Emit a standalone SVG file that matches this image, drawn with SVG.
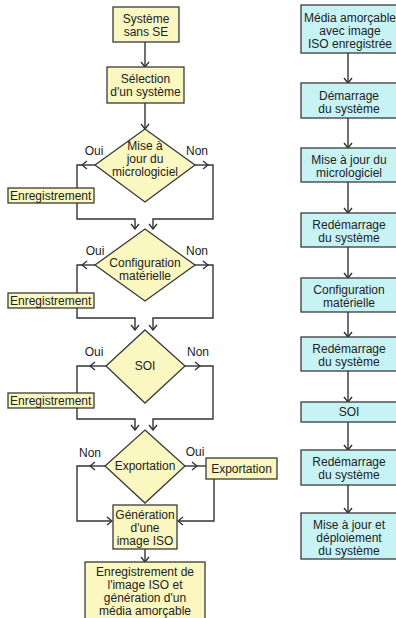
<svg xmlns="http://www.w3.org/2000/svg" width="396" height="618" viewBox="0 0 396 618">
<style>
.y{fill:#FAF7C0;stroke:#3a3a3a;stroke-width:1.3}
.c{fill:#C8F3F5;stroke:#3a3a3a;stroke-width:1.3}
text{font-family:"Liberation Sans",Arial,sans-serif;font-size:12px;fill:#222;text-anchor:middle}
.l{text-anchor:start}
.e{fill:none;stroke:#333;stroke-width:1.4}
</style>
<defs>
<marker id="a" viewBox="-6 -5 7 10" markerUnits="userSpaceOnUse" markerWidth="7" markerHeight="10" refX="0" refY="0" orient="auto">
<path d="M-5,-4 L0,0 L-5,4" fill="none" stroke="#333" stroke-width="1.4"/>
</marker>
</defs>
<g id="connectors">
<path class="e" d="M145,42 V67" marker-end="url(#a)"/>
<path class="e" d="M145,103 V129" marker-end="url(#a)"/>
<path class="e" d="M95,165 H82" marker-end="url(#a)"/>
<path class="e" d="M82,165 H77 V219 H135 V229" marker-end="url(#a)"/>
<path class="e" d="M195,165 H208" marker-end="url(#a)"/>
<path class="e" d="M208,165 H213 V219 H153 V229" marker-end="url(#a)"/>
<path class="e" d="M95,265 H82" marker-end="url(#a)"/>
<path class="e" d="M82,265 H77 V318 H135 V330" marker-end="url(#a)"/>
<path class="e" d="M195,265 H208" marker-end="url(#a)"/>
<path class="e" d="M208,265 H213 V318 H153 V330" marker-end="url(#a)"/>
<path class="e" d="M106,366 H90" marker-end="url(#a)"/>
<path class="e" d="M90,366 H77 V419 H135 V430" marker-end="url(#a)"/>
<path class="e" d="M185,366 H200" marker-end="url(#a)"/>
<path class="e" d="M200,366 H213 V419 H153 V430" marker-end="url(#a)"/>
<path class="e" d="M105,466 H90" marker-end="url(#a)"/>
<path class="e" d="M90,466 H77 V521 H112" marker-end="url(#a)"/>
<path class="e" d="M185,466 H197" marker-end="url(#a)"/>
<path class="e" d="M197,466 H206"/>
<path class="e" d="M214,479 V521 H178" marker-end="url(#a)"/>
<path class="e" d="M145,549 V562" marker-end="url(#a)"/>
<path class="e" d="M348,53 V83" marker-end="url(#a)"/>
<path class="e" d="M348,118 V148" marker-end="url(#a)"/>
<path class="e" d="M348,182 V213" marker-end="url(#a)"/>
<path class="e" d="M348,247 V278" marker-end="url(#a)"/>
<path class="e" d="M348,312 V337" marker-end="url(#a)"/>
<path class="e" d="M348,371 V402" marker-end="url(#a)"/>
<path class="e" d="M348,422 V450" marker-end="url(#a)"/>
<path class="e" d="M348,485 V513" marker-end="url(#a)"/>
</g>
<g id="labels">
<text x="94" y="155">Oui</text>
<text x="197" y="155">Non</text>
<text x="95" y="255">Oui</text>
<text x="197" y="255">Non</text>
<text x="94" y="356">Oui</text>
<text x="198" y="356">Non</text>
<text x="90" y="457">Non</text>
<text x="195" y="456">Oui</text>
</g>
<g id="n_sans_se"><rect class="y" x="113" y="7" width="66" height="35"/><text x="146" y="23">Système</text><text x="146" y="36">sans SE</text></g>
<g id="n_selection"><rect class="y" x="107" y="67" width="77" height="36"/><text x="145.5" y="83">Sélection</text><text x="145.5" y="96">d'un système</text></g>
<g id="d_micro"><polygon class="y" points="145,129 195,165 145,202 95,165"/><text x="145" y="150">Mise à</text><text x="145" y="163">jour du</text><text x="145" y="176">micrologiciel</text></g>
<g id="n_enr1"><rect class="y" x="8" y="188" width="86" height="15"/><text class="l" x="10" y="199.5">Enregistrement</text></g>
<g id="d_config"><polygon class="y" points="145,229 195,265 145,301 95,265"/><text x="145" y="267">Configuration</text><text x="145" y="280">matérielle</text></g>
<g id="n_enr2"><rect class="y" x="8" y="293" width="86" height="15"/><text class="l" x="10" y="304.5">Enregistrement</text></g>
<g id="d_soi"><polygon class="y" points="145,330 185,366 145,403 106,366"/><text x="145" y="370">SOI</text></g>
<g id="n_enr3"><rect class="y" x="8" y="393" width="86" height="15"/><text class="l" x="10" y="404.5">Enregistrement</text></g>
<g id="d_export"><polygon class="y" points="145,430 185,466 145,503 105,466"/><text x="145" y="470">Exportation</text></g>
<g id="n_export"><rect class="y" x="206" y="458" width="71" height="21"/><text x="241.5" y="472.5">Exportation</text></g>
<g id="n_iso"><rect class="y" x="113" y="505" width="64" height="44"/><text x="145" y="519">Génération</text><text x="145" y="532">d'une</text><text x="145" y="545">image ISO</text></g>
<g id="n_media"><rect class="y" x="85" y="562" width="120" height="62"/><text x="145" y="576">Enregistrement de</text><text x="145" y="589">l'image ISO et</text><text x="145" y="602">génération d'un</text><text x="145" y="615">média amorçable</text></g>
<g id="r1"><rect class="c" x="301" y="5" width="97" height="48"/><text x="350" y="22">Média amorçable</text><text x="350" y="35">avec image</text><text x="350" y="48">ISO enregistrée</text></g>
<g id="r2"><rect class="c" x="301" y="83" width="97" height="35"/><text x="349" y="100">Démarrage</text><text x="349" y="113">du système</text></g>
<g id="r3"><rect class="c" x="301" y="148" width="97" height="34"/><text x="349" y="164">Mise à jour du</text><text x="349" y="177">micrologiciel</text></g>
<g id="r4"><rect class="c" x="301" y="213" width="97" height="34"/><text x="349" y="229">Redémarrage</text><text x="349" y="242">du système</text></g>
<g id="r5"><rect class="c" x="301" y="278" width="97" height="34"/><text x="349" y="294">Configuration</text><text x="349" y="307">matérielle</text></g>
<g id="r6"><rect class="c" x="301" y="337" width="97" height="34"/><text x="349" y="353">Redémarrage</text><text x="349" y="366">du système</text></g>
<g id="r7"><rect class="c" x="301" y="402" width="97" height="20"/><text x="349" y="416">SOI</text></g>
<g id="r8"><rect class="c" x="301" y="450" width="97" height="35"/><text x="349" y="466">Redémarrage</text><text x="349" y="479">du système</text></g>
<g id="r9"><rect class="c" x="301" y="513" width="97" height="46"/><text x="349" y="529">Mise à jour et</text><text x="349" y="542">déploiement</text><text x="349" y="555">du système</text></g>
</svg>
